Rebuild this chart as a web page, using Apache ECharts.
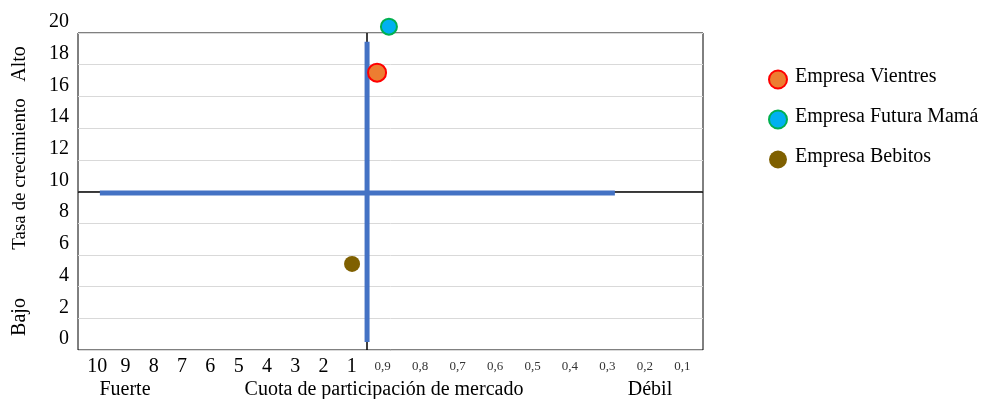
<!DOCTYPE html>
<html>
<head>
<meta charset="utf-8">
<script src="https://cdn.jsdelivr.net/npm/echarts@6/dist/echarts.min.js"></script>
<style>
html,body{margin:0;padding:0;background:#fff;}
#chart{width:992px;height:399px;}
</style>
</head>
<body>
<div id="chart"></div>
<script>
// ---- data ----
const companies = ['Empresa Vientres', 'Empresa Futura Mamá', 'Empresa Bebitos'];
const shareX = [9.57, 9.95, 8.77];      // position on the market-share axis (plot units 0..20)
const growthY = [17.5, 20.4, 5.43];     // growth rate
const companyColors = ['#ED7D31', '#00B0F0', '#7F6000'];
const companyBorders = ['#FF0000', '#00B050', '#7F6000'];
const yTickLabels = ['0', '2', '4', '6', '8', '10', '12', '14', '16', '18', '20'];
const xLabelsStrong = ['10', '9', '8', '7', '6', '5', '4', '3', '2', '1'];
const xLabelsWeak = ['0,9', '0,8', '0,7', '0,6', '0,5', '0,4', '0,3', '0,2', '0,1'];
const axisCrossX = 9.25;   // vertical axis crossing
const axisCrossY = 10;     // horizontal axis crossing
const hDividerY = [9.9];
const hDividerX = [0.7, 17.18];
const vDividerX = [9.25];
const vDividerY = [0.5, 19.45];

const FONT = "'Liberation Serif', 'Times New Roman', serif";

const chart = echarts.init(document.getElementById('chart'));

const scatterSeries = companies.map((name, i) => ({
  name: name,
  type: 'scatter',
  xAxisIndex: 0, yAxisIndex: 0,
  data: [[shareX[i], growthY[i]]],
  symbol: 'circle',
  symbolSize: i === 0 ? 18 : 16,
  clip: false,
  z: 10,
  itemStyle: {
    color: companyColors[i],
    borderColor: companyBorders[i],
    borderWidth: i === 2 ? 0 : 2,
    opacity: 1
  },
  emphasis: { disabled: true }
}));

chart.setOption({
  animation: false,
  backgroundColor: '#fff',
  grid: [
    { left: 78, top: 33, width: 625, height: 317, show: true, borderColor: '#000', borderWidth: 1, backgroundColor: 'transparent' },
    { left: 83, width: 283, bottom: 49, height: 1 },
    { left: 364, width: 337, bottom: 49, height: 1 }
  ],
  xAxis: [
    { gridIndex: 0, type: 'value', min: 0, max: 20, axisLine: { show: false }, axisTick: { show: false }, axisLabel: { show: false }, splitLine: { show: false } },
    { gridIndex: 1, type: 'category', data: xLabelsStrong, axisLine: { show: false }, axisTick: { show: false },
      axisLabel: { fontFamily: FONT, fontSize: 20, color: '#000', margin: 17, verticalAlign: 'middle', interval: 0 } },
    { gridIndex: 2, type: 'category', data: xLabelsWeak, axisLine: { show: false }, axisTick: { show: false },
      axisLabel: { fontFamily: FONT, fontSize: 13, color: '#333', margin: 17, verticalAlign: 'middle', interval: 0 } }
  ],
  yAxis: [
    { gridIndex: 0, type: 'value', min: 0, max: 20, interval: 2,
      axisLine: { show: false }, axisTick: { show: false }, axisLabel: { show: false },
      splitLine: { lineStyle: { color: '#D9D9D9', width: 1 } } },
    { gridIndex: 1, type: 'value', show: false },
    { gridIndex: 2, type: 'value', show: false },
    { gridIndex: 0, type: 'category', data: yTickLabels, boundaryGap: false, position: 'left', offset: 0,
      axisLine: { show: false }, axisTick: { show: false }, splitLine: { show: false },
      axisLabel: {
        interval: 0, margin: 9, verticalAlign: 'middle',
        formatter: v => '{t|' + v + '}',
        rich: { t: { fontFamily: FONT, fontSize: 20, color: '#000', lineHeight: 20, padding: [0, 0, 22, 0] } }
      } }
  ],
  legend: {
    data: companies,
    orient: 'vertical',
    left: 768,
    top: 67,
    padding: 0,
    itemWidth: 18,
    itemHeight: 18,
    itemGap: 15,
    icon: 'circle',
    formatter: name => '{t|' + name + '}',
    textStyle: {
      rich: { t: { fontFamily: FONT, fontSize: 20, color: '#000', lineHeight: 20, padding: [0, 0, 5, 3] } }
    }
  },
  graphic: [
    { type: 'text', x: 20, y: 64, rotation: Math.PI / 2, style: { text: 'Alto', font: '20px ' + FONT, fill: '#000', align: 'center', verticalAlign: 'middle' } },
    { type: 'text', x: 20, y: 174, rotation: Math.PI / 2, style: { text: 'Tasa de crecimiento', font: '19px ' + FONT, fill: '#000', align: 'center', verticalAlign: 'middle' } },
    { type: 'text', x: 20, y: 317, rotation: Math.PI / 2, style: { text: 'Bajo', font: '20px ' + FONT, fill: '#000', align: 'center', verticalAlign: 'middle' } },
    { type: 'text', x: 125, y: 390, style: { text: 'Fuerte', font: '20px ' + FONT, fill: '#000', align: 'center', verticalAlign: 'middle' } },
    { type: 'text', x: 384, y: 390, style: { text: 'Cuota de participación de mercado', font: '20px ' + FONT, fill: '#000', align: 'center', verticalAlign: 'middle' } },
    { type: 'text', x: 650, y: 390, style: { text: 'Débil', font: '20px ' + FONT, fill: '#000', align: 'center', verticalAlign: 'middle' } }
  ],
  series: [
    {
      name: 'axes', type: 'line', xAxisIndex: 0, yAxisIndex: 0, data: [], z: 1, silent: true,
      markLine: {
        z: 1, silent: true, symbol: 'none', label: { show: false },
        lineStyle: { color: '#000', width: 1.5, type: 'solid' },
        data: [{ yAxis: axisCrossY }, { xAxis: axisCrossX }]
      }
    },
    {
      name: 'hDivider', type: 'line', xAxisIndex: 0, yAxisIndex: 0, z: 3, silent: true,
      data: hDividerX.map(x => [x, hDividerY[0]]),
      symbol: 'none', lineStyle: { color: '#4472C4', width: 5 }
    },
    {
      name: 'vDivider', type: 'line', xAxisIndex: 0, yAxisIndex: 0, z: 3, silent: true,
      data: vDividerY.map(y => [vDividerX[0], y]),
      symbol: 'none', lineStyle: { color: '#4472C4', width: 5 }
    },
    { type: 'scatter', xAxisIndex: 1, yAxisIndex: 1, data: [] },
    { type: 'scatter', xAxisIndex: 2, yAxisIndex: 2, data: [] }
  ].concat(scatterSeries)
});
</script>
</body>
</html>
